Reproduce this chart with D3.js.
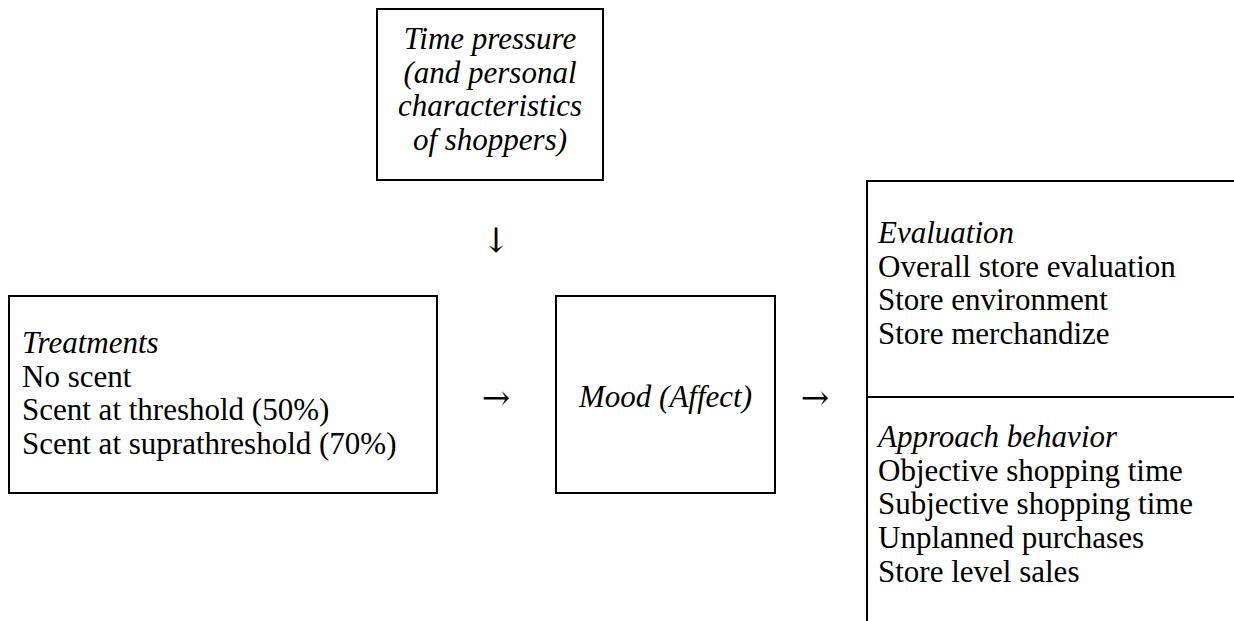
<!DOCTYPE html>
<html><head><meta charset="utf-8">
<script src="https://cdn.jsdelivr.net/npm/d3@7"></script>
<style>html,body{margin:0;padding:0;background:#fff;}svg{display:block;}</style>
</head><body>
<script>
const moderatorLines = ["Time pressure", "(and personal", "characteristics", "of shoppers)"];
const treatmentTitle = "Treatments";
const treatmentLines = ["No scent", "Scent at threshold (50%)", "Scent at suprathreshold (70%)"];
const moodLabel = "Mood (Affect)";
const evaluationTitle = "Evaluation";
const evaluationLines = ["Overall store evaluation", "Store environment", "Store merchandize"];
const approachTitle = "Approach behavior";
const approachLines = ["Objective shopping time", "Subjective shopping time", "Unplanned purchases", "Store level sales"];
const arrows = [{ch:"\u2193", x:496, y:240}, {ch:"\u2192", x:496, y:397}, {ch:"\u2192", x:815, y:397}];

const W = 1234, H = 621;
const svg = d3.select("body").append("svg").attr("width", W).attr("height", H);
const font = "'Liberation Serif','Times New Roman',serif";
const fs = 31, lh = 33.7;

function rect(x0, y0, x1, y1) {
  svg.append("rect").attr("x", x0).attr("y", y0).attr("width", x1 - x0).attr("height", y1 - y0)
    .attr("fill", "none").attr("stroke", "#000").attr("stroke-width", 2);
}
function lines(arr, x, y0, anchor, italicFirst, allItalic) {
  svg.append("g").selectAll("text").data(arr).join("text")
    .attr("x", x).attr("y", (d, i) => y0 + i * lh)
    .attr("text-anchor", anchor)
    .attr("font-family", font).attr("font-size", fs)
    .attr("font-style", (d, i) => allItalic || (italicFirst && i === 0) ? "italic" : "normal")
    .attr("fill", "#000").text(d => d);
}

// Moderator box
rect(377, 9, 603, 180);
lines(moderatorLines, 490, 49, "middle", false, true);

// Treatments box
rect(9, 296, 437, 493);
lines([treatmentTitle, ...treatmentLines], 22, 353, "start", true, false);

// Mood box
rect(556, 296, 775, 493);
lines([moodLabel], 665.5, 407, "middle", false, true);

// Outcome box (open right & bottom)
svg.append("path").attr("d", "M1234,181H867V621").attr("fill", "none").attr("stroke", "#000").attr("stroke-width", 2);
svg.append("line").attr("x1", 867).attr("x2", 1234).attr("y1", 397).attr("y2", 397).attr("stroke", "#000").attr("stroke-width", 2);
lines([evaluationTitle, ...evaluationLines], 878, 243, "start", true, false);
lines([approachTitle, ...approachLines], 878, 447, "start", true, false);

// Arrows
svg.append("g").selectAll("text").data(arrows).join("text")
  .attr("x", d => d.x).attr("y", d => d.y).attr("text-anchor", "middle")
  .attr("dominant-baseline", "central")
  .attr("font-family", "'DejaVu Serif',serif").attr("font-size", 34)
  .attr("fill", "#000").text(d => d.ch);
</script>
</body></html>
